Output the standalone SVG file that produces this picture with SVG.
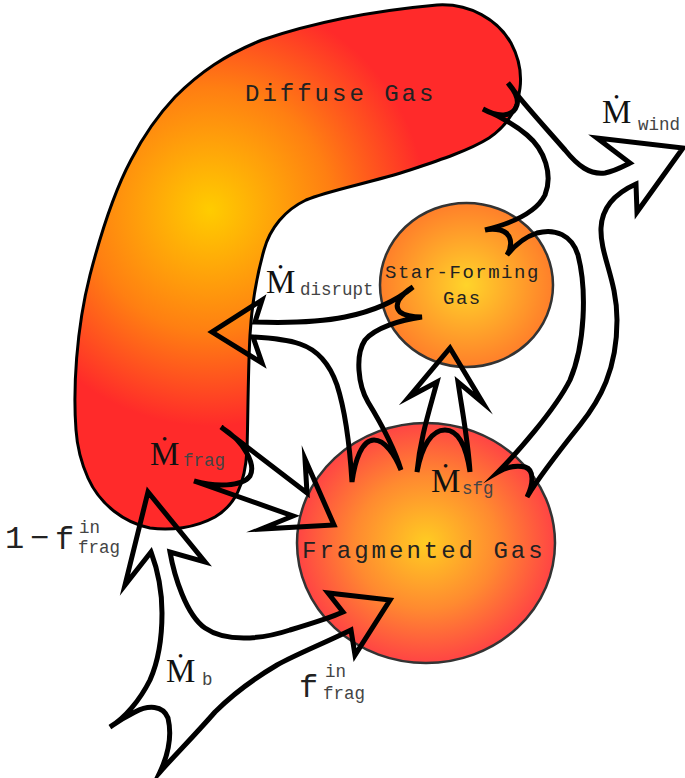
<svg xmlns="http://www.w3.org/2000/svg" width="685" height="778" viewBox="0 0 685 778">
<defs>
<radialGradient id="gDiffuse" gradientUnits="userSpaceOnUse" cx="210" cy="210" r="270">
<stop offset="0" stop-color="#ffcc00"/>
<stop offset="0.45" stop-color="#ff7f12"/>
<stop offset="0.8" stop-color="#ff2a2a"/>
<stop offset="1" stop-color="#ff2a2a"/>
</radialGradient>
<radialGradient id="gStar" cx="0.5" cy="0.5" r="0.5">
<stop offset="0" stop-color="#ffd42a"/>
<stop offset="1" stop-color="#ff7f2a"/>
</radialGradient>
<radialGradient id="gFrag" cx="0.5" cy="0.5" r="0.5">
<stop offset="0" stop-color="#ffcc22"/>
<stop offset="0.55" stop-color="#ff8a30"/>
<stop offset="1" stop-color="#ff4444"/>
</radialGradient>
</defs>
<style>
.node{stroke:#333;stroke-width:2.5}
.arrow{fill:none;stroke:#000;stroke-width:5;stroke-linejoin:miter;stroke-miterlimit:10}
.lbl{font-family:"Liberation Mono",monospace;fill:#222;font-size:24px;letter-spacing:3px}
.lbl2{font-family:"Liberation Mono",monospace;fill:#222;font-size:19px;letter-spacing:1.5px}
.m{font-family:"Liberation Serif","DejaVu Serif",serif;font-size:33px;fill:#111}
.sub{font-family:"Liberation Mono",monospace;font-size:17.5px;fill:#444}
.big{font-family:"Liberation Mono",monospace;font-size:32px;fill:#222}
</style>
<g id="diffuse">
<path d="M 76,430 C 73,390 76,330 90,275 C 103,225 115,190 131,160 C 145,133 158,115 175,97 C 200,72 225,55 262,40 C 300,27 360,12 437,5 C 470,3 498,20 511,43 C 519,58 522,72 520,88 C 518,108 508,125 489,138 C 470,150 440,160 410,170 C 370,183 330,190 306,200 C 285,210 270,228 264,250 C 257,275 252,300 250,335 C 248,370 248,420 247,450 C 245,485 235,505 215,517 C 195,528 170,531 150,528 C 125,523 100,505 88,478 C 80,460 77,445 76,430 Z" fill="url(#gDiffuse)" stroke="#000" stroke-width="3"/>
<text class="lbl" x="245" y="101">Diffuse Gas</text>
</g>
<g id="starforming">
<ellipse class="node" cx="466.5" cy="285" rx="86.5" ry="82" fill="url(#gStar)"/>
<text class="lbl2" x="385" y="278">Star-Forming</text>
<text class="lbl2" x="443" y="304">Gas</text>
</g>
<g id="fragmented">
<ellipse class="node" cx="426" cy="543" rx="129" ry="120" fill="url(#gFrag)"/>
<text class="lbl" x="302" y="558">Fragmented Gas</text>
</g>
<g id="connectors">
<path class="arrow" d="M 110,727 C 125,718 140,700 150,680 C 158,662 162,640 162,613 C 162,590 157,568 151,552 L 125,585 L 148,492 L 205,562 L 170,552 C 174,575 186,615 205,628 C 225,642 260,640 290,630 C 310,624 330,618 343,612 L 328,593 L 390,600 L 355,655 L 351,630 C 320,645 295,655 277,665 C 255,678 235,692 215,712 C 195,735 175,755 160,772 C 168,755 172,735 168,718 C 163,705 148,705 135,712 C 125,717 117,722 110,727 Z"/>
<path class="arrow" d="M 221,427 L 307,493 L 305,459 L 334,525 L 261,529 L 293,516 L 194,481 C 215,487 242,487 250,476 C 256,465 245,442 221,427 Z"/>
<path class="arrow" d="M 417,472 C 420,440 428,415 437,382 L 409,397 L 450,348 L 483,403 L 458,382 C 462,410 468,440 470,472 C 466,445 458,430 445,430 C 432,430 422,445 417,472 Z"/>
<path class="arrow" d="M 255,322 C 285,323 320,322 345,317 C 370,312 395,302 413,287 C 400,295 393,305 400,312 C 405,316 415,317 422,317 C 400,320 375,328 365,340 C 355,355 358,385 368,402 C 382,425 395,450 401,470 C 395,455 385,440 374,440 C 362,440 355,460 352,482 C 350,450 345,410 337,385 C 330,365 318,350 300,344 C 285,339 270,338 253,337 L 262,363 L 212,332 L 262,300 Z"/>
<path class="arrow" d="M 508,83 C 520,100 545,127 565,150 C 578,166 590,175 605,173 C 615,171 622,167 630,163 L 597,138 L 683,148 L 637,212 L 636,184 C 618,192 602,205 601,228 C 600,255 617,280 617,320 C 617,370 600,400 580,425 C 560,450 540,475 527,497 C 533,485 535,470 525,467 C 515,465 505,468 498,472 C 515,455 555,410 570,380 C 585,345 587,290 578,255 C 572,235 555,228 537,233 C 525,237 515,245 507,255 C 513,245 512,233 500,230 C 495,229 490,229 485,230 C 505,225 535,215 545,195 C 553,175 545,150 527,135 C 515,125 497,115 483,109 C 497,117 513,118 517,105 C 519,97 514,90 508,83 Z"/>
</g>
<g id="labels">
<text class="m" x="602" y="123">Ṁ</text><text class="sub" x="638" y="130">wind</text>
<text class="m" x="266" y="293">Ṁ</text><text class="sub" x="300" y="295">disrupt</text>
<text class="m" x="150" y="465">Ṁ</text><text class="sub" x="183" y="466">frag</text>
<text class="m" x="431" y="492">Ṁ</text><text class="sub" x="462" y="494">sfg</text>
<text class="m" x="166" y="682">Ṁ</text><text class="sub" x="202" y="685">b</text>
<text class="big" x="5" y="548">1</text><text class="big" x="30" y="548">−</text><text class="big" x="55" y="549">f</text>
<text class="sub" x="79" y="533">in</text><text class="sub" x="78" y="553">frag</text>
<text class="big" x="299" y="697">f</text>
<text class="sub" x="325" y="677">in</text><text class="sub" x="323" y="699">frag</text>
</g>
</svg>
